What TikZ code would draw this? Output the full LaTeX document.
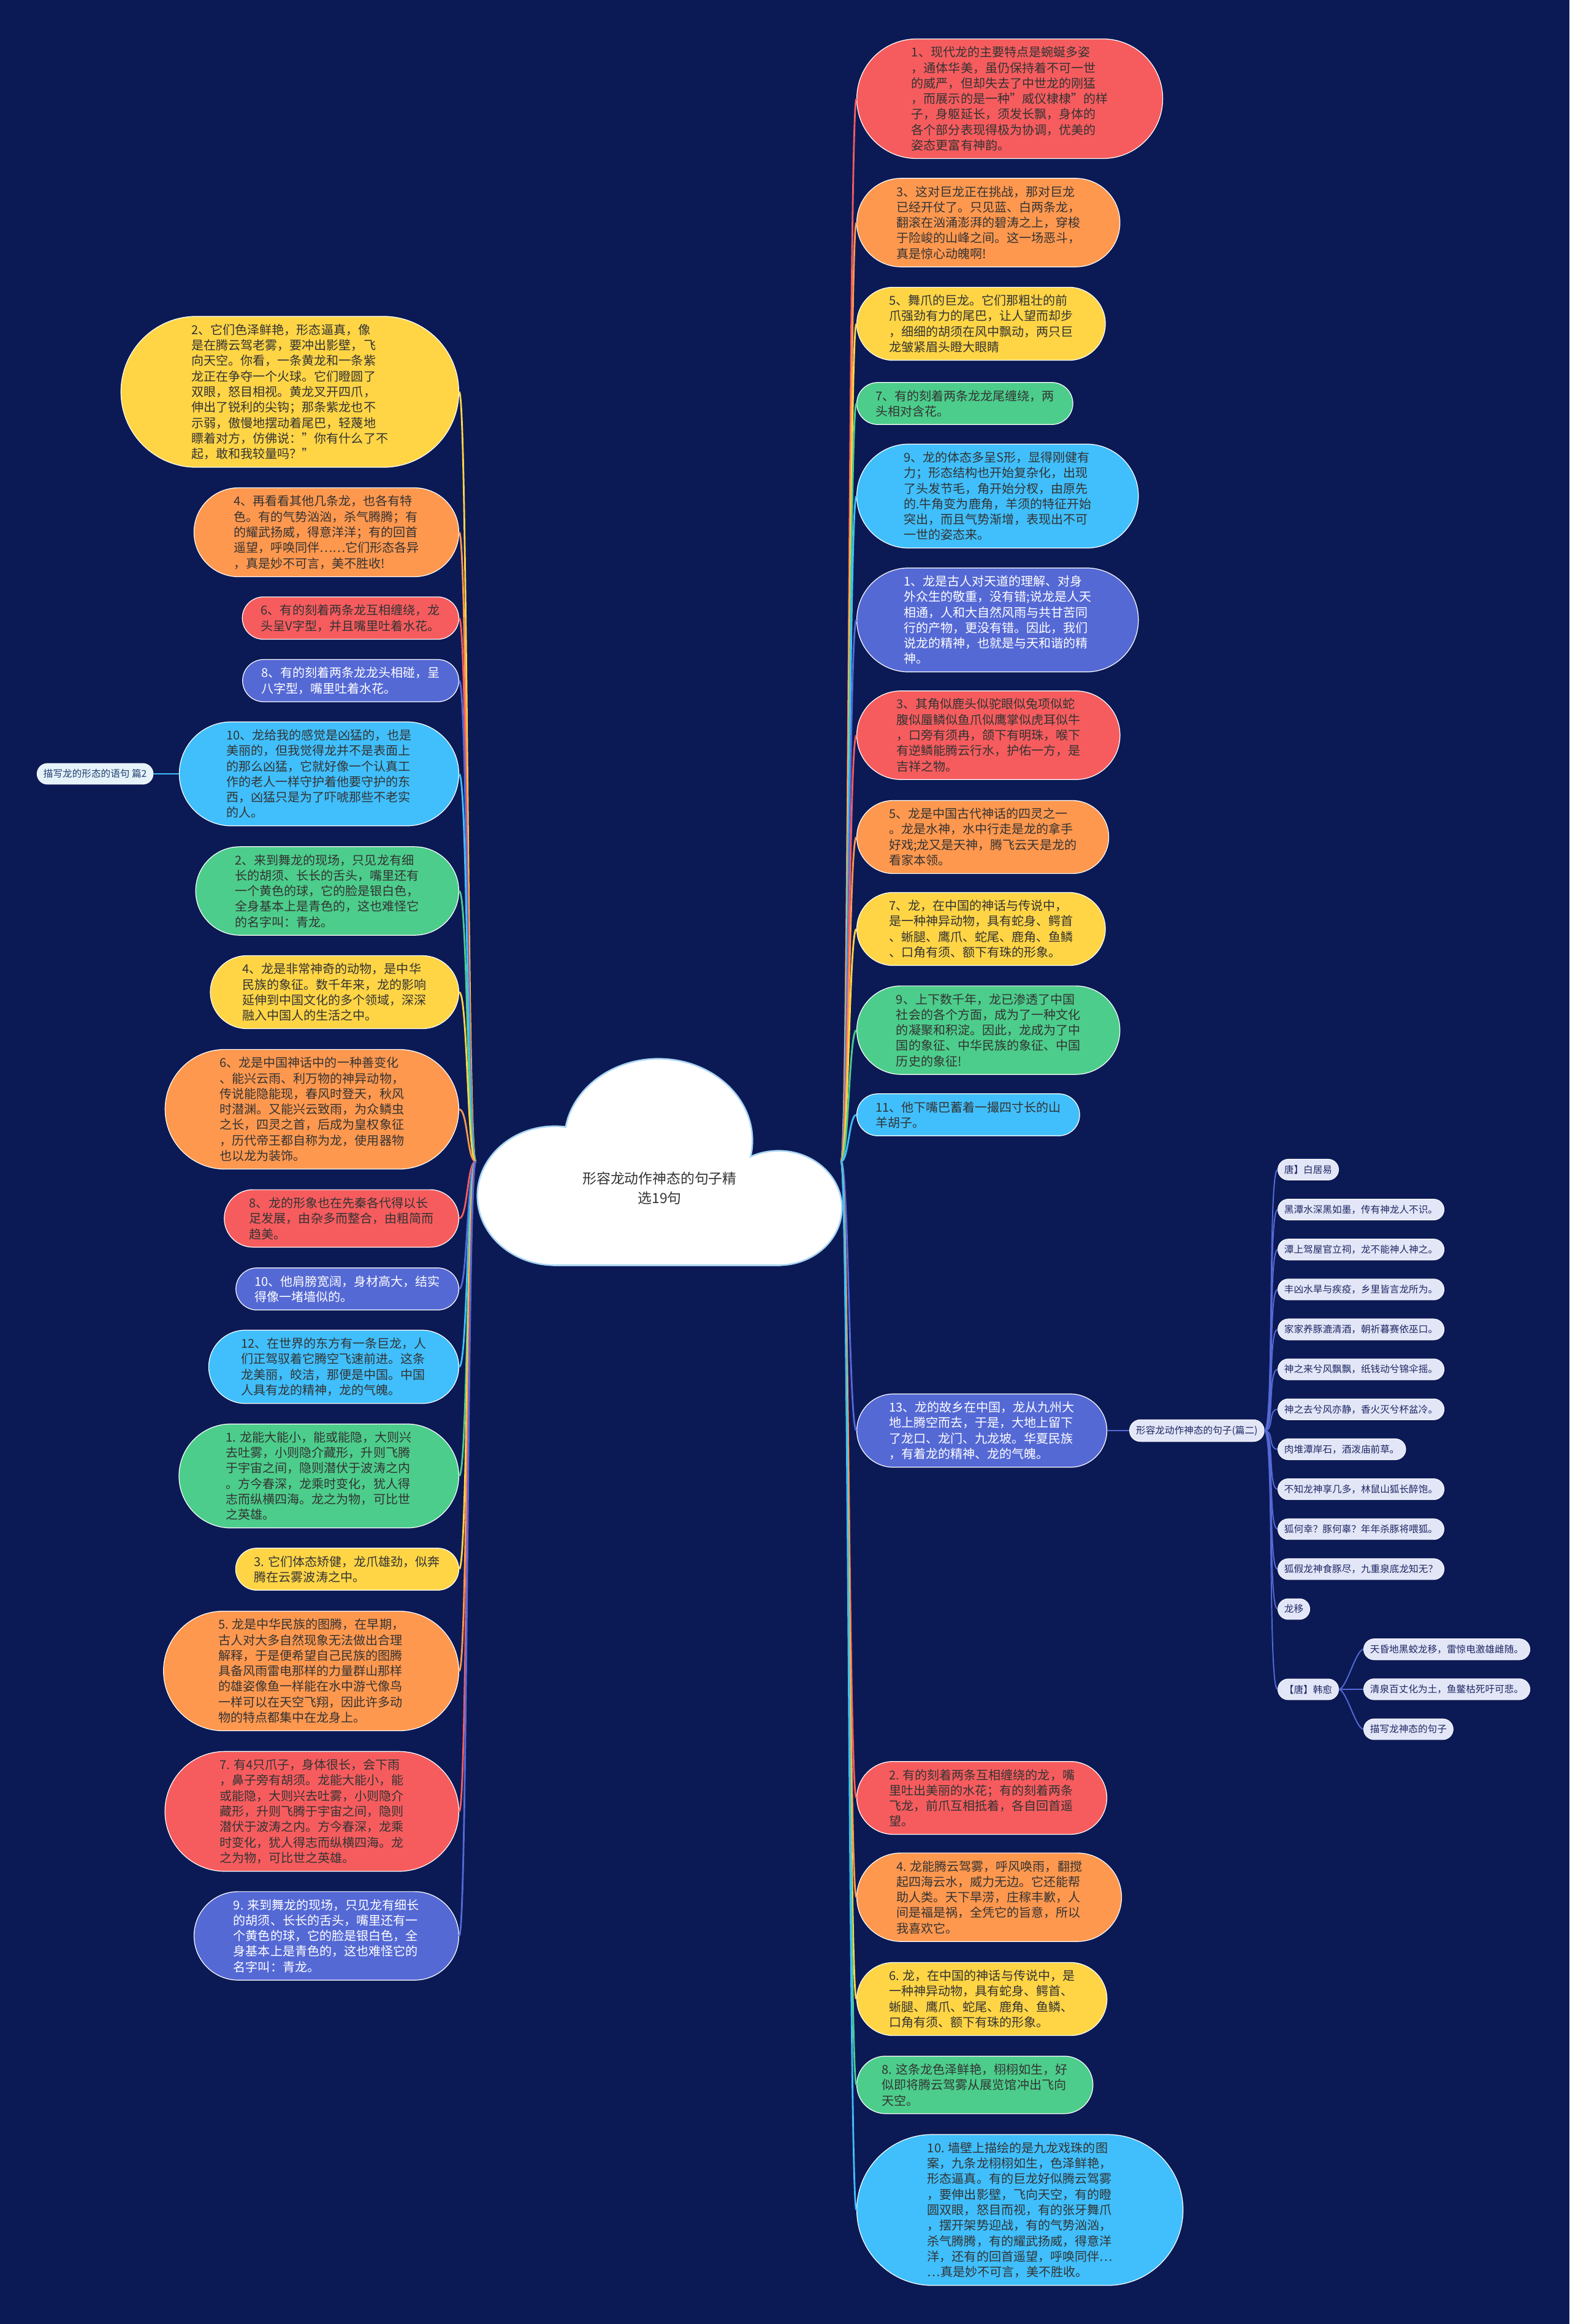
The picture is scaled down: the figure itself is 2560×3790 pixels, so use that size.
\documentclass[tikz,border=0pt]{standalone}
\usepackage{fontspec}
\setmainfont{Noto Sans CJK SC}
\usetikzlibrary{shapes.misc}

\definecolor{navybg}{HTML}{0B1A55}
\definecolor{cred}{HTML}{F65C5E}
\definecolor{corange}{HTML}{FF984F}
\definecolor{cyellow}{HTML}{FFD546}
\definecolor{cgreen}{HTML}{4CCD8B}
\definecolor{cblue}{HTML}{40BFFC}
\definecolor{cpurple}{HTML}{5569D5}
\definecolor{inkdark}{HTML}{333333}
\definecolor{leaffill}{HTML}{E3E6F6}
\definecolor{leafink}{HTML}{1E2866}
\definecolor{pillfill}{HTML}{E6F2FA}
\definecolor{pillink}{HTML}{1F3F6E}
\definecolor{cloudedge}{HTML}{A9D4F2}

\newcommand{\bubfont}{\fontsize{11.4pt}{14.4pt}\selectfont}
\newcommand{\leaffont}{\fontsize{8.9pt}{10pt}\selectfont}
\newcommand{\rootfont}{\fontsize{13pt}{18.5pt}\selectfont}

\tikzset{
    % #1 = number of text lines
    bubble/.style={rounded rectangle, draw=white, line width=0.7pt, inner xsep={9pt+1.9pt*#1}, inner ysep=7pt, align=left, font=\bubfont, text=inkdark},
    lightbub/.style={bubble=#1, text=white},
    leaf/.style={rounded rectangle, draw=white, line width=0.5pt, fill=leaffill, inner xsep=5pt, inner ysep=5.5pt, font=\leaffont, text=leafink},
    pill/.style={leaf, fill=pillfill, text=pillink},
    link/.style={line width=1.6pt},
    leaflink/.style={line width=1.1pt, draw=cpurple},
    cloudpart/.style={draw=cloudedge, line width=3pt},
}

\begin{document}
\begin{tikzpicture}[x=0.02cm, y=-0.02cm]

    \def\xl{749}    % right edge of the left column
    \def\xr{1397}   % left edge of the right column
    \def\xs{2084}   % left edge of the verse column
    \def\xh{2224}   % left edge of the Han Yu column

    % Canvas
    \fill[navybg] (0,0) rectangle (2560,3790);
    \useasboundingbox (0,0) rectangle (2560,3790);
    \coordinate (rootL) at (776,1894);
    \coordinate (rootR) at (1372,1894);

    % Left column
    \node[bubble=9, fill=cyellow, anchor=east] (L1) at (\xl, 639) {2、它们色泽鲜艳，形态逼真，像\\是在腾云驾老雾，要冲出影壁，飞\\向天空。你看，一条黄龙和一条紫\\龙正在争夺一个火球。它们瞪圆了\\双眼，怒目相视。黄龙叉开四爪，\\伸出了锐利的尖钩；那条紫龙也不\\示弱，傲慢地摆动着尾巴，轻蔑地\\瞟着对方，仿佛说："你有什么了不\\起，敢和我较量吗？"};
    \node[bubble=5, fill=corange, anchor=east] (L2) at (\xl, 868) {4、再看看其他几条龙，也各有特\\色。有的气势汹汹，杀气腾腾；有\\的耀武扬威，得意洋洋；有的回首\\遥望，呼唤同伴……它们形态各异\\，真是妙不可言，美不胜收!};
    \node[bubble=2, fill=cred, anchor=east] (L3) at (\xl, 1008) {6、有的刻着两条龙互相缠绕，龙\\头呈V字型，并且嘴里吐着水花。};
    \node[lightbub=2, fill=cpurple, anchor=east] (L4) at (\xl, 1110) {8、有的刻着两条龙龙头相碰，呈\\八字型，嘴里吐着水花。};
    \node[bubble=6, fill=cblue, anchor=east] (L5) at (\xl, 1262) {10、龙给我的感觉是凶猛的，也是\\美丽的，但我觉得龙并不是表面上\\的那么凶猛，它就好像一个认真工\\作的老人一样守护着他要守护的东\\西，凶猛只是为了吓唬那些不老实\\的人。};
    \node[bubble=5, fill=cgreen, anchor=east] (L6) at (\xl, 1453) {2、来到舞龙的现场，只见龙有细\\长的胡须、长长的舌头，嘴里还有\\一个黄色的球，它的脸是银白色，\\全身基本上是青色的，这也难怪它\\的名字叫：青龙。};
    \node[bubble=4, fill=cyellow, anchor=east] (L7) at (\xl, 1618) {4、龙是非常神奇的动物，是中华\\民族的象征。数千年来，龙的影响\\延伸到中国文化的多个领域，深深\\融入中国人的生活之中。};
    \node[bubble=7, fill=corange, anchor=east] (L8) at (\xl, 1809) {6、龙是中国神话中的一种善变化\\、能兴云雨、利万物的神异动物，\\传说能隐能现，春风时登天，秋风\\时潜渊。又能兴云致雨，为众鳞虫\\之长，四灵之首，后成为皇权象征\\，历代帝王都自称为龙，使用器物\\也以龙为装饰。};
    \node[bubble=3, fill=cred, anchor=east] (L9) at (\xl, 1987) {8、龙的形象也在先秦各代得以长\\足发展，由杂多而整合，由粗简而\\趋美。};
    \node[lightbub=2, fill=cpurple, anchor=east] (L10) at (\xl, 2102) {10、他肩膀宽阔，身材高大，结实\\得像一堵墙似的。};
    \node[bubble=4, fill=cblue, anchor=east] (L11) at (\xl, 2229) {12、在世界的东方有一条巨龙，人\\们正驾驭着它腾空飞速前进。这条\\龙美丽，皎洁，那便是中国。中国\\人具有龙的精神，龙的气魄。};
    \node[bubble=6, fill=cgreen, anchor=east] (L12) at (\xl, 2407) {1. 龙能大能小，能或能隐，大则兴\\去吐雾，小则隐介藏形，升则飞腾\\于宇宙之间，隐则潜伏于波涛之内\\。方今春深，龙乘时变化，犹人得\\志而纵横四海。龙之为物，可比世\\之英雄。};
    \node[bubble=2, fill=cyellow, anchor=east] (L13) at (\xl, 2559) {3. 它们体态矫健，龙爪雄劲，似奔\\腾在云雾波涛之中。};
    \node[bubble=7, fill=corange, anchor=east] (L14) at (\xl, 2725) {5. 龙是中华民族的图腾，在早期，\\古人对大多自然现象无法做出合理\\解释，于是便希望自己民族的图腾\\具备风雨雷电那样的力量群山那样\\的雄姿像鱼一样能在水中游弋像鸟\\一样可以在天空飞翔，因此许多动\\物的特点都集中在龙身上。};
    \node[bubble=7, fill=cred, anchor=east] (L15) at (\xl, 2954) {7. 有4只爪子，身体很长，会下雨\\，鼻子旁有胡须。龙能大能小，能\\或能隐，大则兴去吐雾，小则隐介\\藏形，升则飞腾于宇宙之间，隐则\\潜伏于波涛之内。方今春深，龙乘\\时变化，犹人得志而纵横四海。龙\\之为物，可比世之英雄。};
    \node[lightbub=5, fill=cpurple, anchor=east] (L16) at (\xl, 3157) {9. 来到舞龙的现场，只见龙有细长\\的胡须、长长的舌头，嘴里还有一\\个黄色的球，它的脸是银白色，全\\身基本上是青色的，这也难怪它的\\名字叫：青龙。};
    \node[pill, anchor=west] (pian2) at (60, 1262) {描写龙的形态的语句 篇2};

    % Right column
    \node[bubble=7, fill=cred, anchor=west] (R1) at (\xr, 161) {1、现代龙的主要特点是蜿蜒多姿\\，通体华美，虽仍保持着不可一世\\的威严，但却失去了中世龙的刚猛\\，而展示的是一种"威仪棣棣"的样\\子，身躯延长，须发长飘，身体的\\各个部分表现得极为协调，优美的\\姿态更富有神韵。};
    \node[bubble=5, fill=corange, anchor=west] (R2) at (\xr, 363) {3、这对巨龙正在挑战，那对巨龙\\已经开仗了。只见蓝、白两条龙，\\翻滚在汹涌澎湃的碧涛之上，穿梭\\于险峻的山峰之间。这一场恶斗，\\真是惊心动魄啊!};
    \node[bubble=4, fill=cyellow, anchor=west] (R3) at (\xr, 528) {5、舞爪的巨龙。它们那粗壮的前\\爪强劲有力的尾巴，让人望而却步\\，细细的胡须在风中飘动，两只巨\\龙皱紧眉头瞪大眼睛};
    \node[bubble=2, fill=cgreen, anchor=west] (R4) at (\xr, 658) {7、有的刻着两条龙龙尾缠绕，两\\头相对含花。};
    \node[bubble=6, fill=cblue, anchor=west] (R5) at (\xr, 809) {9、龙的体态多呈S形，显得刚健有\\力；形态结构也开始复杂化，出现\\了头发节毛，角开始分杈，由原先\\的.牛角变为鹿角，羊须的特征开始\\突出，而且气势渐增，表现出不可\\一世的姿态来。};
    \node[lightbub=6, fill=cpurple, anchor=west] (R6) at (\xr, 1011) {1、龙是古人对天道的理解、对身\\外众生的敬重，没有错;说龙是人天\\相通，人和大自然风雨与共甘苦同\\行的产物，更没有错。因此，我们\\说龙的精神，也就是与天和谐的精\\神。};
    \node[bubble=5, fill=cred, anchor=west] (R7) at (\xr, 1199) {3、其角似鹿头似驼眼似兔项似蛇\\腹似蜃鳞似鱼爪似鹰掌似虎耳似牛\\，口旁有须冉，颌下有明珠，喉下\\有逆鳞能腾云行水，护佑一方，是\\吉祥之物。};
    \node[bubble=4, fill=corange, anchor=west] (R8) at (\xr, 1365) {5、龙是中国古代神话的四灵之一\\。龙是水神，水中行走是龙的拿手\\好戏;龙又是天神，腾飞云天是龙的\\看家本领。};
    \node[bubble=4, fill=cyellow, anchor=west] (R9) at (\xr, 1515) {7、龙，在中国的神话与传说中，\\是一种神异动物，具有蛇身、鳄首\\、蜥腿、鹰爪、蛇尾、鹿角、鱼鳞\\、口角有须、额下有珠的形象。};
    \node[bubble=5, fill=cgreen, anchor=west] (R10) at (\xr, 1680) {9、上下数千年，龙已渗透了中国\\社会的各个方面，成为了一种文化\\的凝聚和积淀。因此，龙成为了中\\国的象征、中华民族的象征、中国\\历史的象征!};
    \node[bubble=2, fill=cblue, anchor=west] (R11) at (\xr, 1818) {11、他下嘴巴蓄着一撮四寸长的山\\羊胡子。};
    \node[lightbub=4, fill=cpurple, anchor=west] (R12) at (\xr, 2333) {13、龙的故乡在中国，龙从九州大\\地上腾空而去，于是，大地上留下\\了龙口、龙门、九龙坡。华夏民族\\，有着龙的精神、龙的气魄。};
    \node[bubble=4, fill=cred, anchor=west] (R13) at (\xr, 2932) {2. 有的刻着两条互相缠绕的龙，嘴\\里吐出美丽的水花；有的刻着两条\\飞龙，前爪互相抵着，各自回首遥\\望。};
    \node[bubble=5, fill=corange, anchor=west] (R14) at (\xr, 3094) {4. 龙能腾云驾雾，呼风唤雨，翻搅\\起四海云水，威力无边。它还能帮\\助人类。天下旱涝，庄稼丰歉，人\\间是福是祸，全凭它的旨意，所以\\我喜欢它。};
    \node[bubble=4, fill=cyellow, anchor=west] (R15) at (\xr, 3260) {6. 龙，在中国的神话与传说中，是\\一种神异动物，具有蛇身、鳄首、\\蜥腿、鹰爪、蛇尾、鹿角、鱼鳞、\\口角有须、额下有珠的形象。};
    \node[bubble=3, fill=cgreen, anchor=west] (R16) at (\xr, 3400) {8. 这条龙色泽鲜艳，栩栩如生，好\\似即将腾云驾雾从展览馆冲出飞向\\天空。};
    \node[bubble=9, fill=cblue, anchor=west] (R17) at (\xr, 3604) {10. 墙壁上描绘的是九龙戏珠的图\\案，九条龙栩栩如生，色泽鲜艳，\\形态逼真。有的巨龙好似腾云驾雾\\，要伸出影壁，飞向天空，有的瞪\\圆双眼，怒目而视，有的张牙舞爪\\，摆开架势迎战，有的气势汹汹，\\杀气腾腾，有的耀武扬威，得意洋\\洋，还有的回首遥望，呼唤同伴…\\…真是妙不可言，美不胜收。};

    % Branches
    \foreach \nd/\col in {L1/cyellow, L2/corange, L3/cred, L4/cpurple, L5/cblue, L6/cgreen, L7/cyellow, L8/corange, L9/cred, L10/cpurple, L11/cblue, L12/cgreen, L13/cyellow, L14/corange, L15/cred, L16/cpurple}
        \draw[link, \col] (rootL) .. controls +(-14,0) and +(14,0) .. (\nd.east);
    \foreach \nd/\col in {R1/cred, R2/corange, R3/cyellow, R4/cgreen, R5/cblue, R6/cpurple, R7/cred, R8/corange, R9/cyellow, R10/cgreen, R11/cblue, R12/cpurple, R13/cred, R14/corange, R15/cyellow, R16/cgreen, R17/cblue}
        \draw[link, \col] (rootR) .. controls +(12,0) and +(-12,0) .. (\nd.west);
    \draw[link, cblue] (pian2.east) -- (L5.west);

    % Verses (pian er)
    \node[leaf, anchor=west] (hub) at (1842, 2333) {形容龙动作神态的句子(篇二)};
    \draw[leaflink] (R12.east) -- (hub.west);
    \foreach \t [count=\i] in {唐】白居易, 黑潭水深黑如墨，传有神龙人不识。, 潭上驾屋官立祠，龙不能神人神之。, 丰凶水旱与疾疫，乡里皆言龙所为。, 家家养豚漉清酒，朝祈暮赛依巫口。, 神之来兮风飘飘，纸钱动兮锦伞摇。, 神之去兮风亦静，香火灭兮杯盆冷。, 肉堆潭岸石，酒泼庙前草。, 不知龙神享几多，林鼠山狐长醉饱。, 狐何幸？豚何辜？年年杀豚将喂狐。, 狐假龙神食豚尽，九重泉底龙知无？, 龙移}{
        \node[leaf, anchor=west] (s\i) at (\xs, {1907.4+(\i-1)*65.15}) {\t};
        \draw[leaflink] (hub.east) .. controls +(16,0) and +(-16,0) .. (s\i.west);
    }
    \node[leaf, anchor=west] (s13) at (\xs, 2755) {【唐】韩愈};
    \draw[leaflink] (hub.east) .. controls +(16,0) and +(-16,0) .. (s13.west);
    \foreach \t [count=\i] in {天昏地黑蛟龙移，雷惊电激雄雌随。, 清泉百丈化为土，鱼鳖枯死吁可悲。, 描写龙神态的句子}{
        \node[leaf, anchor=west] (h\i) at (\xh, {2689.7+(\i-1)*65.15}) {\t};
        \draw[leaflink] (s13.east) .. controls +(12,0) and +(-12,0) .. (h\i.west);
    }

    % Cloud
    \draw[cloudpart] (1074,1860) ellipse [x radius=152, y radius=132];
    \draw[cloudpart] (905,1950) ellipse [x radius=125, y radius=112];
    \draw[cloudpart] (1270,1970) ellipse [x radius=102, y radius=92];
    \draw[cloudpart] (905,1950) rectangle (1270,2062);
    \fill[white] (1074,1860) ellipse [x radius=152, y radius=132];
    \fill[white] (905,1950) ellipse [x radius=125, y radius=112];
    \fill[white] (1270,1970) ellipse [x radius=102, y radius=92];
    \fill[white] (905,1950) rectangle (1270,2062);
    \node[align=center, font=\rootfont, text=inkdark] (root) at (1076,1938) {形容龙动作神态的句子精\\选19句};

\end{tikzpicture}
\end{document}
